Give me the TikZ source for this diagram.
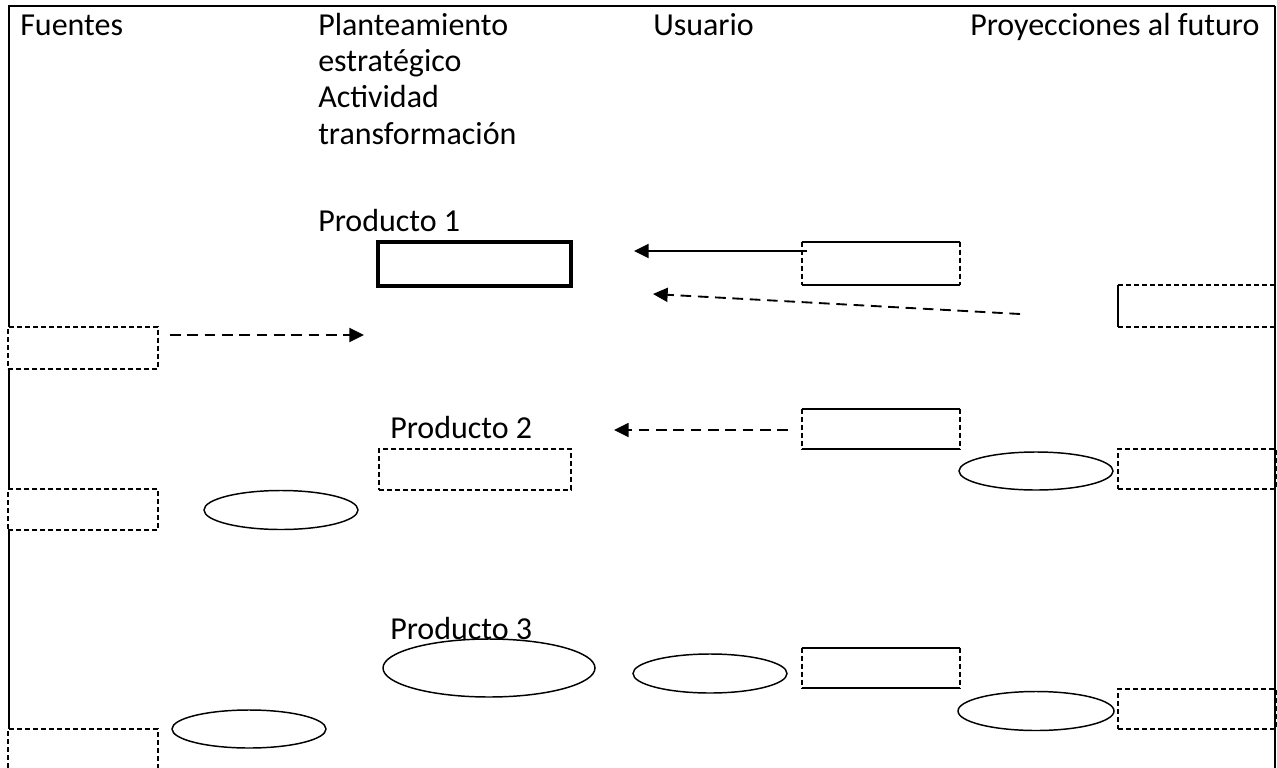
\documentclass[tikz,border=0pt]{standalone}
\usepackage{fontspec}
\setmainfont{Carlito}
\usetikzlibrary{arrows.meta,shapes.geometric}
\tikzset{
  lbl/.style={anchor=base west, inner sep=0pt, font=\fontsize{24}{29}\selectfont},
  frame/.style={line width=1.5pt},
  boxfill/.style={rectangle, fill=white, inner sep=0pt},
  shortdash/.style={line width=1.2pt, dash pattern=on 3.75pt off 2.25pt},
  solidside/.style={line width=1.2pt},
  dashbox/.style={boxfill, draw, shortdash},
  thickbox/.style={boxfill, draw, line width=2.3pt},
  oval/.style={ellipse, draw, line width=1.1pt, inner sep=0pt},
  arr/.style={line width=1.4pt, -{Triangle[length=11pt,width=10.5pt]}},
  longdash/.style={dash pattern=on 8pt off 5pt},
}
\begin{document}
\begin{tikzpicture}[x=0.75pt, y=-0.75pt]
\clip (0,0) rectangle (1277,767);
\fill[white] (0,0) rectangle (1277,767);

% frame (left and top)
\draw[frame] (9,800) -- (9,6) -- (1275,6);

% texts
\node[lbl] (tFuentes) at (20,36) {Fuentes};
\node[lbl] (tPlan1) at (318,36) {Planteamiento};
\node[lbl] (tPlan2) at (318,72) {estratégico};
\node[lbl] (tPlan3) at (318,108) {Actividad};
\node[lbl] (tPlan4) at (318,144) {transformación};
\node[lbl] (tUsuario) at (653,36) {Usuario};
\node[lbl] (tProy) at (970,36) {Proyecciones al futuro};
\node[lbl] (tProd1) at (318,231) {Producto 1};
\node[lbl] (tProd2) at (390,438) {Producto 2};
\node[lbl] (tProd3) at (390,639) {Producto 3};

% Fuentes column boxes (all dashed)
\node[dashbox, minimum width=112.5pt, minimum height=31.5pt] (F1) at (83,348) {};
\node[dashbox, minimum width=112.5pt, minimum height=30.75pt] (F2) at (83,509.5) {};
\node[dashbox, minimum width=112.5pt, minimum height=31.5pt] (F3) at (83,750) {};

% Producto boxes
\node[thickbox, minimum width=144.75pt, minimum height=33pt] (P1) at (474.5,264) {};
\node[dashbox, minimum width=144pt, minimum height=30.75pt] (P2) at (475,469.5) {};

% Usuario boxes: solid top/bottom, dashed sides
\foreach \n/\y/\h in {U1/263.5/32.25pt, U2/429/30pt, U3/668/30pt}{
  \node[boxfill, minimum width=118.5pt, minimum height=\h] (\n) at (881,\y) {};
  \draw[solidside] (\n.north west) -- (\n.north east);
  \draw[solidside] (\n.south west) -- (\n.south east);
  \draw[shortdash] (\n.north west) -- (\n.south west);
  \draw[shortdash] (\n.north east) -- (\n.south east);
}

% Proyecciones boxes
\node[boxfill, minimum width=118.5pt, minimum height=31.5pt] (R1) at (1197,306) {};
\draw[shortdash] (R1.north west) -- (R1.north east);
\draw[shortdash] (R1.south west) -- (R1.south east);
\draw[solidside] (R1.north west) -- (R1.south west);
\node[dashbox, minimum width=118.5pt, minimum height=30pt] (R2) at (1197,469) {};
\node[dashbox, minimum width=118.5pt, minimum height=30pt] (R3) at (1197,709) {};

% ellipses
\node[oval, minimum width=115.5pt, minimum height=29.25pt] (EF2) at (281,510) {};
\node[oval, minimum width=115.5pt, minimum height=28.5pt] (EF3) at (249,729) {};
\node[oval, minimum width=159pt, minimum height=43.5pt] (EP3) at (489,668) {};
\node[oval, minimum width=115.5pt, minimum height=29.25pt] (EU3) at (710,673.5) {};
\node[oval, minimum width=115.5pt, minimum height=28.5pt] (ER2) at (1036,471) {};
\node[oval, minimum width=117pt, minimum height=29.25pt] (ER3) at (1036,711) {};

% right frame line
\draw[frame] (1275,6) -- (1275,800);

% arrows
\coordinate (a1s) at (807,251);
\coordinate (a1e) at (634,251);
\draw[arr] (a1s) -- (a1e);
\coordinate (a2s) at (1020,314);
\coordinate (a2e) at (653,294);
\draw[arr, longdash] (a2s) -- (a2e);
\coordinate (a3s) at (170,335);
\coordinate (a3e) at (364,335);
\draw[arr, longdash] (a3s) -- (a3e);
\coordinate (a4s) at (788,430);
\coordinate (a4e) at (614,430);
\draw[arr, longdash] (a4s) -- (a4e);
\end{tikzpicture}
\end{document}
